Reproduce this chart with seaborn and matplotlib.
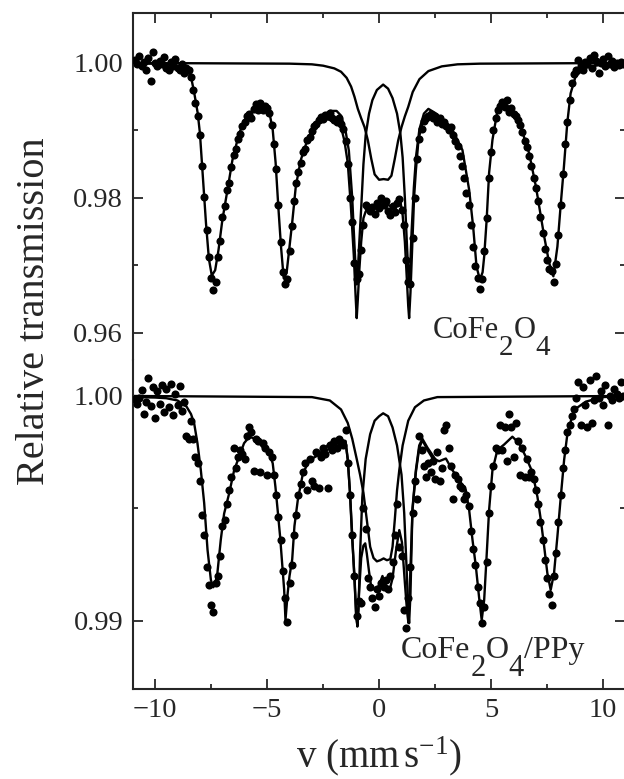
import numpy as np
import matplotlib
matplotlib.use('Agg')
import matplotlib.pyplot as plt
import seaborn as sns
from matplotlib.ticker import MultipleLocator, FormatStrFormatter

# ---- data ----
# channel velocities (mm/s) of the measured points
velocity = np.round(np.linspace(-10.9, 10.9, 219), 2)

# CoFe2O4 measured transmission
top_counts = [
    1.0005, 0.9998, 1.0010, 0.9995, 1.0002, 0.9990, 1.0008, 0.9974, 1.0016, 1.0000,
    0.9996, 1.0003, 0.9999, 1.0009, 0.9992, 0.9989, 1.0001, 0.9995, 1.0006, 0.9993,
    0.9990, 0.9998, 0.9985, 0.9993, 0.9990, 0.9979, 0.9960, 0.9940, 0.9922, 0.9893,
    0.9848, 0.9802, 0.9752, 0.9712, 0.9682, 0.9664, 0.9676, 0.9712, 0.9737, 0.9772,
    0.9788, 0.9812, 0.9822, 0.9846, 0.9864, 0.9873, 0.9888, 0.9895, 0.9907, 0.9912,
    0.9922, 0.9925, 0.9918, 0.9932, 0.9939, 0.9930, 0.9941, 0.9931, 0.9936, 0.9933,
    0.9926, 0.9908, 0.9880, 0.9843, 0.9790, 0.9735, 0.9690, 0.9672, 0.9680, 0.9722,
    0.9758, 0.9795, 0.9822, 0.9838, 0.9852, 0.9868, 0.9873, 0.9886, 0.9890, 0.9899,
    0.9907, 0.9910, 0.9915, 0.9920, 0.9917, 0.9923, 0.9921, 0.9926, 0.9918, 0.9915,
    0.9913, 0.9918, 0.9910, 0.9902, 0.9885, 0.9850, 0.9800, 0.9765, 0.9704, 0.9680,
    0.9688, 0.9723, 0.9760, 0.9790, 0.9785, 0.9780, 0.9787, 0.9777, 0.9792, 0.9785,
    0.9800, 0.9790, 0.9795, 0.9780, 0.9775, 0.9788, 0.9779, 0.9793, 0.9798, 0.9782,
    0.9760, 0.9708, 0.9676, 0.9672, 0.9740, 0.9800, 0.9858, 0.9888, 0.9902, 0.9914,
    0.9918, 0.9921, 0.9925, 0.9918, 0.9922, 0.9912, 0.9918, 0.9909, 0.9912, 0.9907,
    0.9900, 0.9905, 0.9893, 0.9884, 0.9877, 0.9862, 0.9848, 0.9830, 0.9808, 0.9790,
    0.9760, 0.9728, 0.9699, 0.9682, 0.9665, 0.9680, 0.9722, 0.9770, 0.9830, 0.9868,
    0.9900, 0.9918, 0.9930, 0.9937, 0.9942, 0.9935, 0.9945, 0.9928, 0.9933, 0.9925,
    0.9922, 0.9915, 0.9908, 0.9898, 0.9885, 0.9875, 0.9862, 0.9848, 0.9830, 0.9815,
    0.9796, 0.9772, 0.9748, 0.9725, 0.9708, 0.9695, 0.9692, 0.9676, 0.9702, 0.9745,
    0.9790, 0.9835, 0.9880, 0.9912, 0.9945, 0.9970, 0.9983, 0.9990, 1.0004, 0.9995,
    0.9990, 1.0002, 0.9998, 1.0008, 0.9992, 1.0012, 1.0003, 0.9985, 1.0000, 1.0006,
    0.9996, 1.0010, 0.9998, 1.0003, 0.9994, 1.0000, 0.9997, 1.0002, 0.9999,
]

# CoFe2O4/PPy measured transmission
bot_counts = [
    0.99985, 0.99965, 0.99990, 1.00025, 0.99920, 0.99975, 1.00080, 0.99955, 1.00040, 0.99900,
    1.00020, 0.99965, 1.00050, 0.99930, 1.00030, 0.99950, 1.00055, 0.99915, 1.00010, 0.99960,
    1.00045, 0.99935, 0.99975, 0.99820, 0.99810, 0.99890, 0.99810, 0.99730, 0.99700, 0.99620,
    0.99470, 0.99380, 0.99240, 0.99160, 0.99070, 0.99040, 0.99170, 0.99200, 0.99290, 0.99420,
    0.99450, 0.99520, 0.99580, 0.99640, 0.99770, 0.99680, 0.99730, 0.99760, 0.99740, 0.99720,
    0.99820, 0.99860, 0.99840, 0.99665, 0.99810, 0.99800, 0.99660, 0.99790, 0.99770, 0.99650,
    0.99750, 0.99730, 0.99650, 0.99560, 0.99460, 0.99360, 0.99220, 0.99100, 0.98995, 0.99170,
    0.99250, 0.99380, 0.99470, 0.99560, 0.99610, 0.99660, 0.99700, 0.99580, 0.99720, 0.99620,
    0.99600, 0.99750, 0.99590, 0.99730, 0.99770, 0.99740, 0.99590, 0.99780, 0.99760, 0.99800,
    0.99770, 0.99810, 0.99790, 0.99780, 0.99850, 0.99700, 0.99560, 0.99380, 0.99200, 0.99020,
    0.99090, 0.99080, 0.99500, 0.99410, 0.99190, 0.99150, 0.99100, 0.99060, 0.99140, 0.99110,
    0.99170, 0.99150, 0.99180, 0.99140, 0.99200, 0.99260, 0.99380, 0.99520, 0.99330, 0.99290,
    0.99050, 0.98970, 0.99100, 0.99240, 0.99480, 0.99620, 0.99540, 0.99820, 0.99760, 0.99690,
    0.99640, 0.99700, 0.99660, 0.99710, 0.99630, 0.99750, 0.99620, 0.99680, 0.99850, 0.99870,
    0.99770, 0.99690, 0.99540, 0.99650, 0.99630, 0.99600, 0.99590, 0.99540, 0.99560, 0.99510,
    0.99400, 0.99320, 0.99250, 0.99150, 0.99080, 0.98990, 0.99060, 0.99260, 0.99480, 0.99600,
    0.99690, 0.99770, 0.99760, 0.99870, 0.99760, 0.99860, 0.99710, 0.99920, 0.99860, 0.99730,
    0.99880, 0.99800, 0.99650, 0.99770, 0.99640, 0.99720, 0.99640, 0.99660, 0.99630, 0.99580,
    0.99520, 0.99440, 0.99360, 0.99270, 0.99190, 0.99120, 0.99070, 0.99200, 0.99300, 0.99440,
    0.99560, 0.99680, 0.99760, 0.99840, 0.99870, 0.99910, 0.99940, 0.99990, 1.00060, 0.99870,
    1.00040, 0.99960, 0.99860, 1.00070, 0.99880, 0.99980, 1.00090, 0.99990, 1.00020, 0.99960,
    1.00050, 0.99870, 1.00000, 0.99980, 1.00030, 1.00010, 0.99990, 1.00060, 1.00000,
]

# fitted curves, CoFe2O4: total fit, sextet part and doublet part
top_fit_v = [-11.0, -10.0, -9.5, -9.0, -8.7, -8.5, -8.4, -8.25, -8.1, -8.0,
             -7.88, -7.73, -7.6, -7.47, -7.32, -7.17, -7.0, -6.77, -6.55, -6.25,
             -5.95, -5.65, -5.3, -5.05, -4.9, -4.75, -4.62, -4.5, -4.38, -4.26,
             -4.13, -4.0, -3.87, -3.72, -3.5, -3.2, -2.85, -2.5, -2.2, -1.9,
             -1.7, -1.55, -1.4, -1.26, -1.13, -1.05, -1.0, -0.95, -0.88, -0.8,
             -0.7, -0.6, -0.45, -0.3, -0.1, 0.18, 0.4, 0.6, 0.8, 0.95,
             1.05, 1.15, 1.23, 1.3, 1.34, 1.4, 1.49, 1.56, 1.64, 1.76,
             1.94, 2.16, 2.5, 2.9, 3.27, 3.72, 4.02, 4.2, 4.35, 4.5,
             4.62, 4.69, 4.8, 4.91, 5.06, 5.28, 5.51, 5.95, 6.32, 6.7,
             7.0, 7.22, 7.37, 7.59, 7.78, 7.96, 8.1, 8.25, 8.4, 8.55,
             8.77, 9.2, 10.0, 11.0]
top_fit = [0.9999, 0.9999, 0.9998, 0.9996, 0.9992, 0.9985, 0.9980, 0.9955, 0.9926, 0.9896,
           0.9837, 0.9763, 0.9710, 0.9685, 0.9693, 0.9723, 0.9767, 0.9812, 0.9856, 0.9896,
           0.9918, 0.9930, 0.9935, 0.9933, 0.9927, 0.9901, 0.9852, 0.9787, 0.9728, 0.9681,
           0.9689, 0.9728, 0.9767, 0.9817, 0.9856, 0.9886, 0.9909, 0.9918, 0.9916, 0.9913,
           0.9905, 0.9885, 0.9852, 0.9787, 0.9715, 0.9655, 0.9622, 0.9650, 0.9695, 0.9735,
           0.9770, 0.9780, 0.9782, 0.9782, 0.9788, 0.9796, 0.9790, 0.9786, 0.9795, 0.9795,
           0.9775, 0.9735, 0.9685, 0.9640, 0.9622, 0.9660, 0.9738, 0.9800, 0.9840, 0.9887,
           0.9912, 0.9922, 0.9920, 0.9912, 0.9901, 0.9871, 0.9812, 0.9757, 0.9698, 0.9679,
           0.9690, 0.9713, 0.9767, 0.9837, 0.9886, 0.9929, 0.9940, 0.9930, 0.9906, 0.9866,
           0.9817, 0.9773, 0.9743, 0.9704, 0.9684, 0.9728, 0.9787, 0.9846, 0.9911, 0.9955,
           0.9980, 0.9993, 0.9998, 0.9999]

top_sext_v = [-2.8, -2.5, -2.2, -1.9, -1.7, -1.5, -1.35, -1.2, -1.1, -1.03,
              -1.0, -0.96, -0.9, -0.8, -0.7, -0.6, -0.45, -0.3, -0.1, 0.18,
              0.4, 0.6, 0.8, 0.95, 1.05, 1.15, 1.23, 1.3, 1.34, 1.38,
              1.45, 1.55, 1.65, 1.8, 2.0, 2.2, 2.5, 2.8]
top_sext = [0.9912, 0.9922, 0.9929, 0.9929, 0.9922, 0.9900, 0.9870, 0.9800, 0.9730, 0.9685,
            0.9672, 0.9685, 0.9725, 0.9785, 0.9850, 0.9893, 0.9925, 0.9945, 0.9960, 0.9968,
            0.9962, 0.9948, 0.9925, 0.9895, 0.9860, 0.9800, 0.9740, 0.9690, 0.9672, 0.9690,
            0.9750, 0.9815, 0.9862, 0.9902, 0.9925, 0.9932, 0.9926, 0.9916]

top_dbl_v = [-11.0, -4.0, -3.0, -2.5, -2.0, -1.7, -1.45, -1.25, -1.1, -0.95,
             -0.8, -0.65, -0.5, -0.35, -0.2, 0.0, 0.2, 0.4, 0.55, 0.7,
             0.85, 1.0, 1.15, 1.3, 1.5, 1.8, 2.2, 2.8, 3.5, 4.5, 11.0]
top_dbl = [1.0000, 0.9999, 0.9998, 0.9996, 0.9992, 0.9987, 0.9978, 0.9965, 0.9950, 0.9932,
           0.9918, 0.9905, 0.9885, 0.9858, 0.9835, 0.9827, 0.9828, 0.9827, 0.9833, 0.9858,
           0.9885, 0.9905, 0.9921, 0.9935, 0.9957, 0.9976, 0.9988, 0.9995, 0.9998, 0.9999,
           1.0000]

# fitted curves, CoFe2O4/PPy
bot_fit_v = [-11.0, -10.0, -9.5, -9.0, -8.6, -8.4, -8.26, -8.11, -7.96, -7.81,
             -7.66, -7.51, -7.4, -7.3, -7.22, -7.07, -6.92, -6.7, -6.47, -6.25,
             -6.03, -5.8, -5.5, -5.2, -4.9, -4.75, -4.63, -4.53, -4.42, -4.33,
             -4.24, -4.18, -4.08, -4.0, -3.88, -3.78, -3.63, -3.4, -3.1, -2.66,
             -2.2, -1.84, -1.65, -1.5, -1.4, -1.3, -1.21, -1.1, -1.03, -0.97,
             -0.9, -0.8, -0.7, -0.62, -0.55, -0.45, -0.35, -0.15, 0.0, 0.15,
             0.3, 0.45, 0.6, 0.75, 0.9, 1.02, 1.15, 1.25, 1.31, 1.38,
             1.49, 1.64, 1.79, 1.93, 2.16, 2.38, 2.68, 2.98, 3.27, 3.57,
             3.87, 4.02, 4.17, 4.32, 4.46, 4.58, 4.69, 4.79, 4.91, 5.06,
             5.28, 5.58, 5.95, 6.25, 6.55, 6.85, 7.07, 7.22, 7.37, 7.51,
             7.66, 7.81, 7.96, 8.11, 8.26, 8.41, 8.7, 9.23, 10.0, 11.0]
bot_fit = [0.99995, 0.99993, 0.9999, 0.9998, 0.99953, 0.9992, 0.9988, 0.9979, 0.99671, 0.99524,
           0.99316, 0.99182, 0.9915, 0.99175, 0.99213, 0.9936, 0.99477, 0.99565, 0.99671, 0.9973,
           0.9979, 0.99818, 0.9981, 0.99772, 0.99742, 0.99701, 0.99597, 0.99493, 0.99375, 0.99257,
           0.9914, 0.99004, 0.99126, 0.9920, 0.99274, 0.99422, 0.99538, 0.99657, 0.99716, 0.9974,
           0.99767, 0.9979, 0.99775, 0.99797, 0.99716, 0.9957, 0.99378, 0.9920, 0.99036, 0.98975,
           0.9912, 0.9928, 0.99335, 0.99345, 0.9930, 0.9922, 0.9915, 0.99135, 0.9916, 0.9920,
           0.9915, 0.9913, 0.9919, 0.9931, 0.99404, 0.9935, 0.9917, 0.9904, 0.98991, 0.9918,
           0.99493, 0.9966, 0.99768, 0.99804, 0.9976, 0.99724, 0.9971, 0.99722, 0.99671, 0.99627,
           0.99582, 0.99493, 0.9936, 0.99242, 0.99108, 0.99004, 0.99093, 0.99271, 0.99493, 0.9967,
           0.9976, 0.99784, 0.99819, 0.9979, 0.9973, 0.9966, 0.99551, 0.99449, 0.9933, 0.99213,
           0.99138, 0.99213, 0.99376, 0.99551, 0.99716, 0.99835, 0.99938, 0.99975, 0.99995, 1.0]

bot_sext_v = [-2.6, -2.2, -1.84, -1.5, -1.4, -1.3, -1.2, -1.1, -1.02, -0.97,
              -0.92, -0.85, -0.75, -0.6, -0.4, -0.2, 0.0, 0.18, 0.4, 0.6,
              0.8, 1.0, 1.12, 1.22, 1.3, 1.34, 1.4, 1.49, 1.64, 1.79,
              1.93, 2.16, 2.5]
bot_sext = [0.9975, 0.9979, 0.9981, 0.9980, 0.9972, 0.9957, 0.9938, 0.9918, 0.9902, 0.98980,
            0.9905, 0.9930, 0.9955, 0.9972, 0.9983, 0.9989, 0.9991, 0.99923, 0.9991, 0.9986,
            0.9978, 0.9965, 0.9948, 0.9925, 0.9905, 0.98990, 0.9912, 0.9950, 0.9967, 0.9978,
            0.9981, 0.9977, 0.9972]

bot_dbl_v = [-11.0, -3.0, -2.2, -1.7, -1.4, -1.2, -1.0, -0.85, -0.7, -0.55,
             -0.4, -0.25, -0.1, 0.05, 0.2, 0.35, 0.5, 0.6, 0.7, 0.8,
             0.9, 1.05, 1.3, 1.6, 2.0, 2.6, 11.0]
bot_dbl = [1.0000, 0.99995, 0.9998, 0.9994, 0.9988, 0.9981, 0.9972, 0.9965, 0.9957, 0.9945,
           0.9933, 0.9928, 0.99265, 0.9927, 0.99278, 0.9927, 0.99275, 0.9933, 0.9945, 0.9958,
           0.9967, 0.9978, 0.9989, 0.9995, 0.9998, 0.99995, 1.0000]

# ---- style ----
sns.set_style('ticks')
plt.rcParams['font.family'] = ['Liberation Serif', 'DejaVu Serif']
plt.rcParams['mathtext.fontset'] = 'custom'
plt.rcParams['mathtext.rm'] = 'Liberation Serif'
plt.rcParams['mathtext.it'] = 'Liberation Serif:italic'
plt.rcParams['axes.linewidth'] = 1.5

fig = plt.figure(figsize=(6.24, 7.79), dpi=100)
ax_top = fig.add_axes([0.2127, 0.5379, 0.7897, 0.4458])
ax_bot = fig.add_axes([0.2127, 0.1159, 0.7897, 0.4220])


def draw_panel(ax, counts, curves):
    for cx, cy in curves:
        sns.lineplot(x=cx, y=cy, ax=ax, color='black', linewidth=1.7,
                     estimator=None, sort=False)
    sns.scatterplot(x=velocity, y=counts, ax=ax, color='black', s=34,
                    linewidth=0, zorder=3)
    ax.set_xlim(-11, 11)
    ax.xaxis.set_major_locator(MultipleLocator(5))
    ax.xaxis.set_minor_locator(MultipleLocator(2.5))
    ax.tick_params(which='both', direction='in', left=True, right=True,
                   width=1.3, labelsize=20.5, pad=7)
    ax.tick_params(which='major', length=7)
    ax.tick_params(which='minor', length=3.5)
    ax.set_xlabel('')
    ax.set_ylabel('')


draw_panel(ax_top, top_counts,
           [(top_fit_v, top_fit), (top_sext_v, top_sext), (top_dbl_v, top_dbl)])
draw_panel(ax_bot, bot_counts,
           [(bot_fit_v, bot_fit), (bot_sext_v, bot_sext), (bot_dbl_v, bot_dbl)])

ax_top.set_ylim(0.956, 1.00745)
ax_top.yaxis.set_major_locator(MultipleLocator(0.02))
ax_top.yaxis.set_minor_locator(MultipleLocator(0.01))
ax_top.yaxis.set_major_formatter(FormatStrFormatter('%.2f'))
ax_top.tick_params(which='both', top=True, bottom=False, labelbottom=False)
ax_top.spines['bottom'].set_visible(False)

ax_bot.set_ylim(0.98699, 1.0016)
ax_bot.yaxis.set_major_locator(MultipleLocator(0.01))
ax_bot.yaxis.set_minor_locator(MultipleLocator(0.005))
ax_bot.yaxis.set_major_formatter(FormatStrFormatter('%.2f'))
ax_bot.tick_params(which='both', top=False, bottom=True)
ax_bot.spines['top'].set_visible(False)
ax_bot.set_xlabel(r'v (mm$\,$s$^{-1}$)', fontsize=28, labelpad=8)

fig.text(0.055, 0.6, 'Relative transmission', rotation=90,
         ha='center', va='center', fontsize=29)


def formula(ax, x, y, parts, size=22, drop=12):
    # chemical formula with large lowered subscripts
    prev = ax.text(x, y, parts[0], fontsize=size, ha='left', va='baseline')
    for i, part in enumerate(parts[1:]):
        shift = -drop if i % 2 == 0 else drop
        prev = ax.annotate(part, xy=(1, 0), xycoords=prev, xytext=(0, shift),
                           textcoords='offset points', ha='left', va='bottom',
                           fontsize=size if shift > 0 else size - 1)


formula(ax_top, 2.41, 0.9593, ['CoFe', '2', 'O', '4'])
formula(ax_bot, 0.98, 0.98836, ['CoFe', '2', 'O', '4', '/PPy'], size=23, drop=13)

fig.savefig('out.png', dpi=100)
